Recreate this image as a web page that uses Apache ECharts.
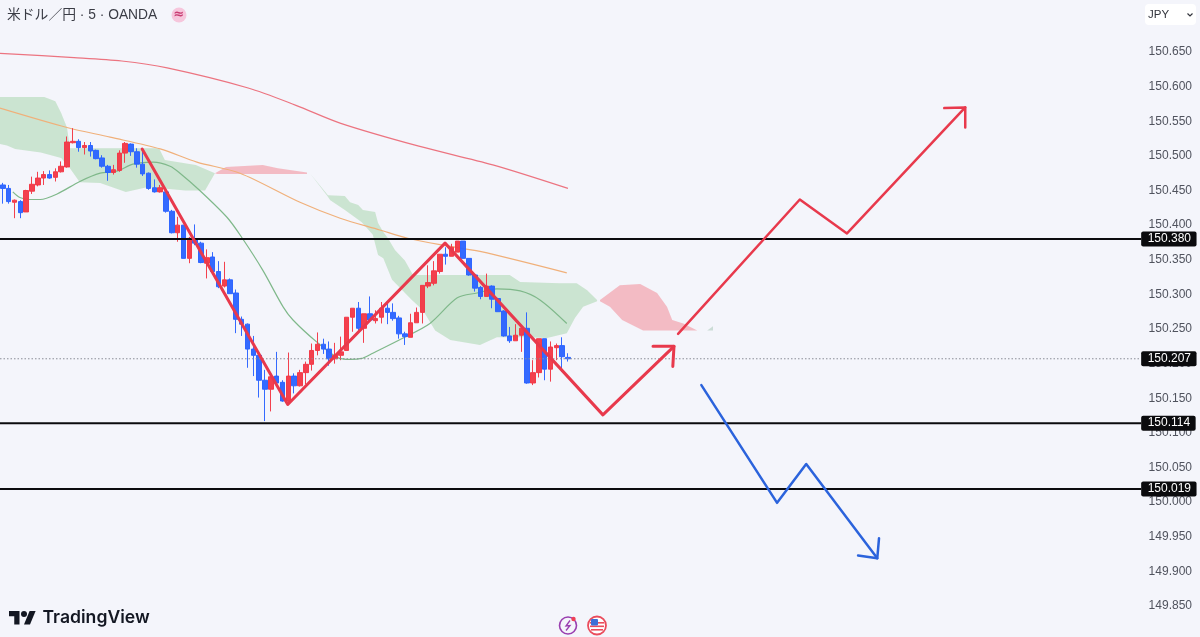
<!DOCTYPE html>
<html>
<head>
<meta charset="utf-8">
<script src="https://cdn.jsdelivr.net/npm/echarts@6/dist/echarts.min.js"></script>
<style>html,body{margin:0;padding:0;background:#f4f5fb}#c{width:1200px;height:637px}</style>
</head>
<body>
<div id="c"></div>
<script>
// Candles: 5-minute USD/JPY
const open = [150.458,150.453,150.433,150.434,150.419,150.449,150.458,150.468,150.473,150.469,150.477,150.484,150.519,150.521,150.512,150.515,150.508,150.497,150.485,150.476,150.479,150.504,150.517,150.506,150.488,150.475,150.454,150.448,150.448,150.420,150.389,150.400,150.352,150.380,150.374,150.345,150.354,150.333,150.312,150.321,150.302,150.264,150.257,150.221,150.212,150.176,150.163,150.182,150.173,150.146,150.182,150.168,150.187,150.199,150.219,150.228,150.221,150.207,150.212,150.219,150.267,150.280,150.251,150.272,150.262,150.267,150.280,150.274,150.266,150.243,150.238,150.259,150.274,150.312,150.316,150.333,150.358,150.355,150.361,150.377,150.352,150.328,150.310,150.297,150.312,150.294,150.276,150.240,150.233,150.241,150.251,150.172,150.187,150.236,150.192,150.223,150.226,150.209];
const close = [150.453,150.434,150.436,150.418,150.450,150.459,150.468,150.473,150.468,150.477,150.485,150.520,150.521,150.512,150.515,150.507,150.496,150.485,150.476,150.480,150.504,150.518,150.506,150.488,150.474,150.453,150.448,150.454,150.420,150.389,150.400,150.352,150.381,150.374,150.346,150.353,150.333,150.311,150.321,150.301,150.264,150.257,150.221,150.212,150.176,150.163,150.181,150.172,150.146,150.182,150.168,150.187,150.199,150.219,150.228,150.221,150.207,150.212,150.217,150.267,150.280,150.251,150.272,150.263,150.265,150.280,150.274,150.265,150.243,150.239,150.259,150.274,150.313,150.317,150.334,150.358,150.355,150.368,150.377,150.352,150.328,150.309,150.297,150.312,150.293,150.275,150.240,150.233,150.241,150.251,150.172,150.187,150.236,150.192,150.224,150.226,150.210,150.207];
const low = [150.431,150.431,150.410,150.410,150.419,150.445,150.456,150.458,150.467,150.463,150.476,150.483,150.518,150.506,150.502,150.499,150.495,150.483,150.464,150.473,150.477,150.490,150.500,150.483,150.471,150.451,150.447,150.447,150.418,150.388,150.376,150.352,150.345,150.371,150.345,150.323,150.333,150.309,150.310,150.301,150.244,150.240,150.194,150.182,150.151,150.117,150.131,150.171,150.145,150.143,150.157,150.167,150.170,150.190,150.212,150.214,150.197,150.200,150.205,150.219,150.246,150.248,150.230,150.260,150.258,150.258,150.257,150.262,150.236,150.227,150.238,150.259,150.258,150.309,150.313,150.330,150.343,150.355,150.361,150.352,150.327,150.304,150.293,150.297,150.280,150.275,150.239,150.230,150.233,150.217,150.171,150.169,150.180,150.176,150.174,150.205,150.188,150.203];
const high = [150.461,150.458,150.437,150.436,150.451,150.470,150.477,150.478,150.479,150.482,150.492,150.528,150.540,150.524,150.520,150.520,150.509,150.501,150.487,150.487,150.508,150.520,150.518,150.511,150.506,150.476,150.466,150.458,150.453,150.422,150.412,150.400,150.383,150.401,150.376,150.365,150.361,150.348,150.347,150.323,150.307,150.268,150.258,150.240,150.212,150.191,150.181,150.217,150.176,150.216,150.186,150.191,150.203,150.229,150.245,150.236,150.232,150.230,150.239,150.267,150.280,150.289,150.272,150.297,150.277,150.289,150.289,150.287,150.269,150.246,150.272,150.281,150.313,150.342,150.348,150.358,150.368,150.373,150.377,150.377,150.352,150.329,150.312,150.330,150.313,150.295,150.277,150.253,150.257,150.252,150.274,150.205,150.236,150.236,150.232,150.229,150.238,150.215];

// Moving averages as [bar index, price]
const maSlow = [[-0.5,150.648],[12.2,150.642],[20.4,150.637],[28.2,150.627],[42.1,150.598],[50.3,150.573],[58,150.547],[71.4,150.514],[84.1,150.487],[97,150.453]];
const maMid = [[-0.5,150.569],[11,150.541],[18.4,150.527],[27,150.510],[33.3,150.491],[40.7,150.475],[51,150.433],[57.9,150.410],[64.7,150.393],[69.5,150.381],[75.5,150.371],[81.9,150.362],[96.8,150.331]];
const maFast = [[1.7,150.448],[2.9,150.440],[4.6,150.437],[6.4,150.437],[9.3,150.445],[13.2,150.463],[16.7,150.475],[19.6,150.478],[22.3,150.488],[25.8,150.491],[28.7,150.485],[30.4,150.475],[33.8,150.450],[38.5,150.411],[41.1,150.381],[44.6,150.335],[48.1,150.282],[49.8,150.263],[53.9,150.231],[57.4,150.209],[59.6,150.206],[61.8,150.208],[63.5,150.215],[68.7,150.237],[73.3,150.258],[78,150.295],[81.4,150.302],[84.8,150.308],[88.8,150.305],[92.2,150.292],[96.8,150.258]];

// Ichimoku cloud outlines
const cloudGreen1 = [[-0.5,150.585],[7.1,150.585],[9,150.579],[10,150.562],[11,150.541],[11.5,150.511],[26.8,150.511],[27.8,150.494],[33.1,150.487],[36.4,150.475],[34.7,150.450],[31.3,150.450],[24.9,150.455],[21.1,150.448],[16.7,150.461],[13.2,150.462],[11.5,150.482],[10,150.497],[6.5,150.505],[2.1,150.510],[0.7,150.515],[-0.5,150.517]];
const cloudPink1 = [[36.4,150.475],[38.3,150.484],[44.6,150.487],[47.2,150.482],[52.2,150.476],[52.2,150.474],[36.8,150.474]];
const cloudGreen2 = [[52.7,150.475],[55.8,150.443],[58.7,150.442],[59.6,150.433],[61,150.429],[61.8,150.422],[63.9,150.419],[64.4,150.403],[65.3,150.390],[66.1,150.381],[67.3,150.364],[69,150.349],[70.4,150.328],[87,150.328],[88.8,150.318],[95.6,150.316],[98.5,150.316],[100.3,150.306],[102,150.292],[102,150.290],[99.6,150.282],[98.2,150.266],[96.8,150.244],[93.4,150.237],[90,150.238],[84.8,150.238],[81.9,150.227],[76.8,150.234],[74.2,150.248],[72.1,150.277],[70.2,150.292],[66.8,150.321],[65.3,150.352],[64.4,150.357],[63.5,150.386],[61.6,150.404],[58.7,150.422],[56.2,150.436],[55.6,150.443]];
const cloudPink2 = [[102.5,150.292],[105.9,150.313],[109.4,150.315],[112.3,150.302],[114,150.282],[114.9,150.263],[116.8,150.258],[119.2,150.248],[109.9,150.248],[106.3,150.263],[104.2,150.282],[102.5,150.290]];
const cloudGreen3 = [[120.9,150.248],[121.9,150.254],[121.9,150.248]];

// Hand-drawn scenario lines
const waveRed = [[23.9,150.510],[48.9,150.141],[75.9,150.374],[103,150.126],[115.2,150.225]];
const waveRedHead = [[111.6,150.225],[115.2,150.225],[115,150.196]];
const upRed = [[115.9,150.243],[136.8,150.437],[144.9,150.388],[165.2,150.570]];
const upRedHead = [[161.6,150.569],[165.2,150.570],[165.2,150.541]];
const downBlue = [[119.9,150.169],[132.9,149.999],[137.9,150.055],[150.1,149.919]];
const downBlueHead = [[146.8,149.923],[150.1,149.919],[150.4,149.948]];

// Horizontal levels
const levels = [150.380, 150.114, 150.019];
const lastPrice = 150.207;
const levelStart = -0.5, levelEnd = 195.4;
const barSlots = 206;

const RED = '#f23645', BLUE = '#2962ff', DRAW_RED = '#e8394c', DRAW_BLUE = '#2b63dc';
const GREEN_FILL = 'rgba(60,170,60,0.22)', PINK_FILL = 'rgba(242,54,69,0.30)';
const categories = Array.from({length: barSlots}, (_, i) => String(i));
const candles = open.map((o, i) => [o, close[i], low[i], high[i]]);
const clouds = [
  {pts: cloudGreen1, color: GREEN_FILL},
  {pts: cloudPink1, color: PINK_FILL},
  {pts: cloudGreen2, color: GREEN_FILL},
  {pts: cloudPink2, color: PINK_FILL},
  {pts: cloudGreen3, color: 'rgba(60,130,80,0.22)'}
];
const lineBase = {type: 'line', xAxisIndex: 1, yAxisIndex: 0, symbol: 'none', silent: true, clip: false};
const drawLine = (name, data, color, width) => Object.assign({}, lineBase, {
  name, data, z: 6, lineStyle: {color, width, cap: 'round', join: 'round'}
});
const maLine = (name, data, color) => Object.assign({}, lineBase, {
  name, data, z: 3, smooth: 0.3, lineStyle: {color, width: 1.2}
});
const tag = {show: true, distance: 0, color: '#fff', backgroundColor: '#0b0b0e', borderRadius: 2,
  padding: [2, 5.5, 1, 6.5], fontSize: 12, fontFamily: 'Liberation Sans', formatter: p => p.value[1].toFixed(3)};
const levelSeries = levels.map(v => Object.assign({}, lineBase, {
  name: 'level ' + v, data: [[levelStart, v], [levelEnd, v]], z: 5,
  lineStyle: {color: '#0b0b0e', width: 2}, endLabel: tag
}));

const chart = echarts.init(document.getElementById('c'), null, {renderer: 'canvas'});
chart.setOption({
  animation: false,
  backgroundColor: '#f4f5fb',
  grid: {left: 0, right: 0, top: 52, bottom: 31},
  xAxis: [
    {type: 'category', data: categories, show: false, boundaryGap: true},
    {type: 'value', min: -0.5, max: 205.5, show: false}
  ],
  yAxis: [{
    type: 'value', position: 'right', min: 149.85, max: 150.65, interval: 0.05,
    axisLine: {show: false}, axisTick: {show: false}, splitLine: {show: false},
    axisLabel: {inside: true, margin: 8, color: '#50535e', fontSize: 12,
      fontFamily: 'Liberation Sans', align: 'right', formatter: v => v.toFixed(3)}
  }],
  series: [
    {type: 'custom', name: 'cloud', xAxisIndex: 1, yAxisIndex: 0, silent: true, z: 1, clip: false,
      data: clouds.map(c => c.pts[0]),
      renderItem: (params, api) => {
        const c = clouds[params.dataIndex];
        return {type: 'polygon', shape: {points: c.pts.map(p => api.coord(p))}, style: {fill: c.color}};
      }},
    maLine('slow MA', maSlow, '#ec7480'),
    maLine('mid MA', maMid, '#f0b07a'),
    maLine('fast MA', maFast, '#7fb88a'),
    {type: 'candlestick', name: 'USDJPY', xAxisIndex: 0, yAxisIndex: 0, data: candles, barWidth: 5, z: 4, silent: true,
      itemStyle: {color: RED, color0: BLUE, borderColor: RED, borderColor0: BLUE, borderWidth: 1, opacity: 0.95}},
    Object.assign({}, lineBase, {name: 'last price', z: 5,
      data: [[levelStart, lastPrice], [levelEnd, lastPrice]],
      lineStyle: {color: '#8a8d96', width: 1, type: [1.5, 2]}, endLabel: tag}),
    ...levelSeries,
    drawLine('wave', waveRed, DRAW_RED, 3),
    drawLine('wave head', waveRedHead, DRAW_RED, 3),
    drawLine('up', upRed, DRAW_RED, 2.5),
    drawLine('up head', upRedHead, DRAW_RED, 2.5),
    drawLine('down', downBlue, DRAW_BLUE, 2.5),
    drawLine('down head', downBlueHead, DRAW_BLUE, 2.5)
  ],
  graphic: [
    {type: 'text', x: 7, y: 8, style: {text: '米ドル／円 · 5 · OANDA', fill: '#3a3c45', fontSize: 13.8,
      fontFamily: '"Liberation Sans","Noto Sans CJK JP"'}},
    {type: 'circle', shape: {cx: 179, cy: 15, r: 7.5}, style: {fill: '#f6c6dc'}},
    {type: 'text', x: 179, y: 15, style: {text: '≈', fill: '#c83c72', fontSize: 13, fontWeight: 'bold',
      align: 'center', verticalAlign: 'middle', fontFamily: 'DejaVu Sans'}},
    {type: 'rect', shape: {x: 1145, y: 4, width: 51, height: 21, r: 4}, style: {fill: '#ffffff'}},
    {type: 'text', x: 1148, y: 15, style: {text: 'JPY', fill: '#33353d', fontSize: 11.5,
      verticalAlign: 'middle', fontFamily: 'Liberation Sans'}},
    {type: 'polyline', shape: {points: [[1187.5, 13.5], [1190, 16], [1192.5, 13.5]]},
      style: {stroke: '#33353d', lineWidth: 1.2, fill: null}},
    // TradingView mark and wordmark
    {type: 'polygon', shape: {points: [[19.5, 624.5], [14.25, 624.5], [14.25, 616.25], [9, 616.25], [9, 611], [19.5, 611]]}, style: {fill: '#131722'}},
    {type: 'polygon', shape: {points: [[30, 624.5], [24, 624.5], [29.6, 611], [35.6, 611]]}, style: {fill: '#131722'}},
    {type: 'circle', shape: {cx: 24, cy: 614, r: 3}, style: {fill: '#131722'}},
    {type: 'text', x: 42.5, y: 618, style: {text: 'TradingView', fill: '#131722', fontSize: 17.6, fontWeight: 600,
      verticalAlign: 'middle', fontFamily: 'Inter'}},
    // Footer icons
    {type: 'circle', shape: {cx: 568, cy: 625.5, r: 8.5}, style: {fill: 'none', stroke: '#9a3fb0', lineWidth: 1.6}},
    {type: 'polyline', shape: {points: [[570, 620.5], [566, 626], [570, 625.5], [566, 630.5]]},
      style: {stroke: '#9a3fb0', lineWidth: 1.3, fill: null}},
    {type: 'circle', shape: {cx: 573.5, cy: 619, r: 2.2}, style: {fill: '#ef3f55'}},
    {type: 'circle', shape: {cx: 597, cy: 625.5, r: 9}, style: {fill: '#ffffff', stroke: '#ea4c5c', lineWidth: 1.8}},
    {type: 'rect', shape: {x: 590, y: 622, width: 14, height: 1.6}, style: {fill: '#ea4c5c'}},
    {type: 'rect', shape: {x: 590, y: 625.5, width: 14, height: 1.6}, style: {fill: '#ea4c5c'}},
    {type: 'rect', shape: {x: 591, y: 629, width: 12, height: 1.6}, style: {fill: '#ea4c5c'}},
    {type: 'rect', shape: {x: 591, y: 619, width: 7, height: 6.5, r: 1}, style: {fill: '#3d6fd6'}}
  ]
});
</script>
</body>
</html>
